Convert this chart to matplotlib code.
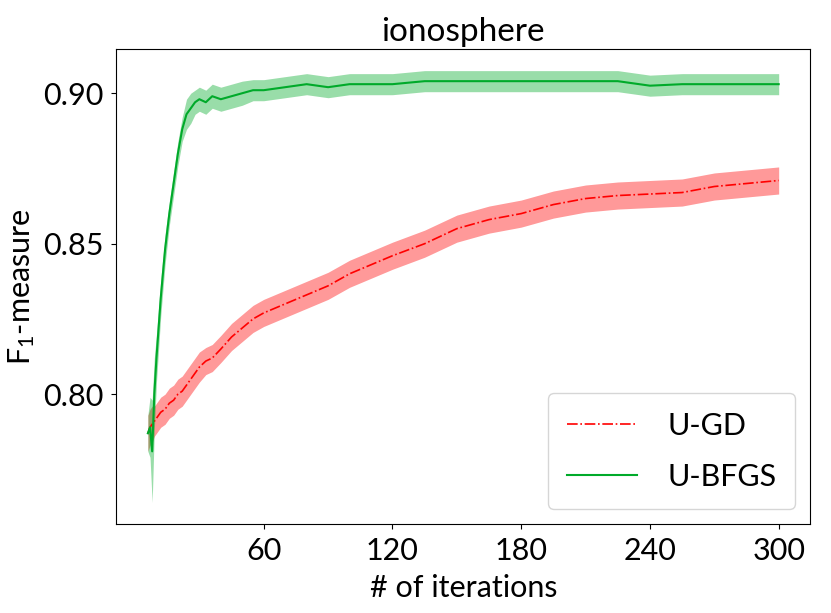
import numpy as np
import matplotlib
matplotlib.use("Agg")
import matplotlib.pyplot as plt

plt.rcParams['font.family'] = ['Lato', 'DejaVu Sans']
plt.rcParams['mathtext.default'] = 'regular'

iters = [6, 7, 8, 9, 10, 12, 14, 16, 18, 20, 22, 24, 26, 28, 30, 33, 36, 40, 45, 50,
         55, 60, 70, 80, 90, 100, 110, 120, 135, 150, 165, 180, 195, 210, 225, 240,
         255, 270, 285, 300]

bfgs_mean = [0.787, 0.789, 0.781, 0.800, 0.812, 0.832, 0.848, 0.860, 0.870, 0.880,
             0.888, 0.893, 0.895, 0.897, 0.898, 0.897, 0.899, 0.898, 0.899, 0.900,
             0.901, 0.901, 0.902, 0.903, 0.902, 0.903, 0.903, 0.903, 0.904, 0.904,
             0.904, 0.904, 0.904, 0.904, 0.904, 0.9025, 0.903, 0.903, 0.903, 0.903]
bfgs_std = [0.006, 0.010, 0.017, 0.012, 0.008, 0.006, 0.005, 0.004, 0.004, 0.004,
            0.004, 0.005, 0.005, 0.004, 0.004, 0.004, 0.004, 0.004, 0.004, 0.004,
            0.0035, 0.0035, 0.0035, 0.0035, 0.0035, 0.0035, 0.0035, 0.0035, 0.0035, 0.0035,
            0.0035, 0.0035, 0.0035, 0.0035, 0.0035, 0.0035, 0.0035, 0.0035, 0.0035, 0.0035]

gd_mean = [0.787, 0.789, 0.790, 0.791, 0.792, 0.794, 0.795, 0.797, 0.798, 0.800,
           0.801, 0.803, 0.805, 0.807, 0.809, 0.811, 0.812, 0.815, 0.819, 0.822,
           0.825, 0.827, 0.830, 0.833, 0.836, 0.840, 0.843, 0.846, 0.850, 0.855,
           0.858, 0.860, 0.863, 0.865, 0.866, 0.8665, 0.867, 0.869, 0.870, 0.871]
gd_std = [0.006, 0.006, 0.006, 0.005, 0.005, 0.005, 0.005, 0.005, 0.005, 0.005,
          0.005, 0.005, 0.005, 0.005, 0.005, 0.0045, 0.0045, 0.0045, 0.0045, 0.0045,
          0.0045, 0.0045, 0.0045, 0.0045, 0.0045, 0.0045, 0.0045, 0.0045, 0.0045, 0.0045,
          0.0045, 0.0045, 0.0045, 0.0045, 0.0045, 0.0045, 0.0045, 0.0045, 0.0045, 0.0045]

x = np.array(iters)
red = '#ff0000'
green = '#00aa2a'

fig, ax = plt.subplots(figsize=(8.31, 6.13), dpi=100)
ax.plot(x, gd_mean, color=red, linestyle='-.', linewidth=1.2, label='U-GD')
ax.fill_between(x, np.array(gd_mean) - gd_std, np.array(gd_mean) + gd_std,
                color=red, alpha=0.4, linewidth=0)
ax.plot(x, bfgs_mean, color=green, linestyle='-', linewidth=1.5, label='U-BFGS')
ax.fill_between(x, np.array(bfgs_mean) - bfgs_std, np.array(bfgs_mean) + bfgs_std,
                color=green, alpha=0.4, linewidth=0)

ax.set_xticks([60, 120, 180, 240, 300])
ax.set_yticks([0.80, 0.85, 0.90])
ax.set_yticklabels(['0.80', '0.85', '0.90'])
ax.tick_params(labelsize=22, pad=6)
ax.set_title('ionosphere', fontsize=24)
ax.set_xlabel('# of iterations', fontsize=22, labelpad=6)
ax.set_ylabel('F$_1$-measure', fontsize=22)
ax.legend(loc='lower right', fontsize=22, handlelength=2.3, handletextpad=1.0,
          labelspacing=0.75, borderpad=0.6)

plt.subplots_adjust(left=0.14, right=0.975, top=0.92, bottom=0.145)
plt.savefig('out.png')
